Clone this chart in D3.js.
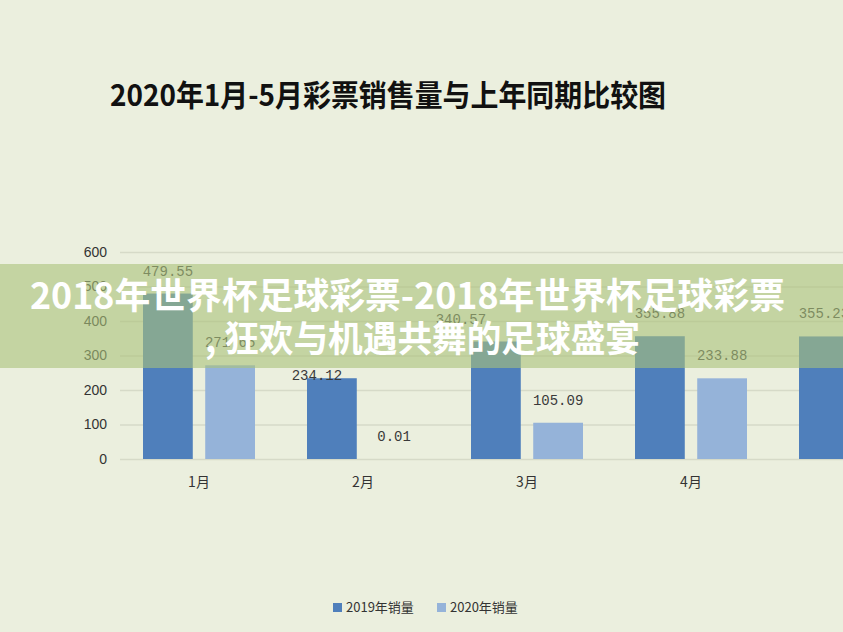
<!DOCTYPE html>
<html>
<head>
<meta charset="utf-8">
<script src="https://cdn.jsdelivr.net/npm/d3@7/dist/d3.min.js"></script>
<style>
  html, body { margin: 0; padding: 0; background: #ebefde; }
  svg { display: block; }
</style>
</head>
<body>
<svg id="chart" width="843" height="632"></svg>
<script>
// ---- data ----
const categories = ["1月", "2月", "3月", "4月", "5月"];
const seriesNames = ["2019年销量", "2020年销量"];
const sales2019 = [479.55, 234.12, 340.57, 355.88, 355.23];
const sales2020 = [271.65, 0.01, 105.09, 233.88, 304.28];
const yTicks = [0, 100, 200, 300, 400, 500, 600];
const chartTitle = "2020年1月-5月彩票销售量与上年同期比较图";
const bannerLines = ["2018年世界杯足球彩票-2018年世界杯足球彩票", ", 狂欢与机遇共舞的足球盛宴"];

// ---- setup ----
const W = 843, H = 632;
const svg = d3.select("#chart");
const colors = {"2019年销量": "#4f7fbb", "2020年销量": "#95b3d9"};
const seriesValues = {"2019年销量": sales2019, "2020年销量": sales2020};

svg.append("rect").attr("width", W).attr("height", H).attr("fill", "#ebefde");

const x0 = d3.scaleBand().domain(categories).range([117, 937]);
const x1 = d3.scaleBand().domain(seriesNames).range([26, 138]).paddingInner(0.2);
const y = d3.scaleLinear().domain([0, 600]).range([459, 252]);

// title
svg.append("text")
  .attr("x", 110).attr("y", 106)
  .attr("textLength", 556).attr("lengthAdjust", "spacingAndGlyphs")
  .style("font-family", "'Noto Sans CJK SC', sans-serif")
  .style("font-weight", 700).style("font-size", "30px")
  .attr("fill", "#111")
  .text(chartTitle);

// y axis + gridlines
const yAxis = svg.append("g")
  .attr("transform", "translate(120,0)")
  .call(d3.axisLeft(y).tickValues(yTicks).tickSize(-(W - 120)).tickPadding(13).tickFormat(d3.format("d")));
yAxis.select(".domain").remove();
yAxis.selectAll(".tick line").attr("stroke", "#d6dac8").attr("stroke-width", 1.5);
yAxis.selectAll(".tick text")
  .style("font-family", "'Liberation Sans', sans-serif")
  .style("font-size", "14px").attr("fill", "#333");

// x axis
const xAxis = svg.append("g")
  .attr("transform", "translate(0,459)")
  .call(d3.axisBottom(x0).tickSize(0).tickPadding(18));
xAxis.select(".domain").remove();
xAxis.selectAll(".tick text")
  .style("font-family", "'Noto Sans CJK SC', sans-serif")
  .style("font-size", "14px").attr("fill", "#333");

// bars
const rows = [];
categories.forEach((c, i) => seriesNames.forEach(s => rows.push({cat: c, series: s, value: seriesValues[s][i]})));

svg.append("g").selectAll("rect").data(rows).join("rect")
  .attr("x", d => x0(d.cat) + x1(d.series))
  .attr("y", d => y(d.value))
  .attr("width", x1.bandwidth())
  .attr("height", d => y(0) - y(d.value))
  .attr("fill", d => colors[d.series]);

// value labels (a couple are shifted in the original)
const labelShift = {"2月|2019年销量": [-15, 20], "3月|2019年销量": [-35, 0]};
svg.append("g").selectAll("text").data(rows).join("text")
  .attr("x", d => x0(d.cat) + x1(d.series) + x1.bandwidth() / 2 + ((labelShift[d.cat + "|" + d.series] || [0, 0])[0]))
  .attr("y", d => y(d.value) - 18 + ((labelShift[d.cat + "|" + d.series] || [0, 0])[1]))
  .attr("text-anchor", "middle")
  .style("font-family", "'Liberation Mono', monospace")
  .style("font-size", "14px")
  .attr("fill", "#3a3a3a")
  .text(d => d3.format(".2f")(d.value));

// legend
const legend = svg.append("g").attr("transform", "translate(333,603)");
const lg = legend.selectAll("g").data(seriesNames).join("g")
  .attr("transform", (d, i) => `translate(${i * 104},0)`);
lg.append("rect").attr("width", 9).attr("height", 9).attr("fill", d => colors[d]);
lg.append("text").attr("x", 13).attr("y", 9)
  .style("font-family", "'Noto Sans CJK SC', sans-serif")
  .style("font-size", "13px").attr("fill", "#333")
  .text(d => d);

// overlay banner
svg.append("rect").attr("x", 0).attr("y", 264).attr("width", W).attr("height", 104)
  .attr("fill", "#aac27a").attr("fill-opacity", 0.6);
const bx = [30, 205], by = [309, 352], bLen = [755, 435];
svg.append("g").selectAll("text").data(bannerLines).join("text")
  .attr("x", (d, i) => bx[i]).attr("y", (d, i) => by[i])
  .attr("textLength", (d, i) => bLen[i]).attr("lengthAdjust", "spacingAndGlyphs")
  .style("font-family", "'Noto Sans CJK SC', sans-serif")
  .style("font-weight", 700).style("font-size", "36px")
  .attr("fill", "#ffffff")
  .text(d => d);
</script>
</body>
</html>
